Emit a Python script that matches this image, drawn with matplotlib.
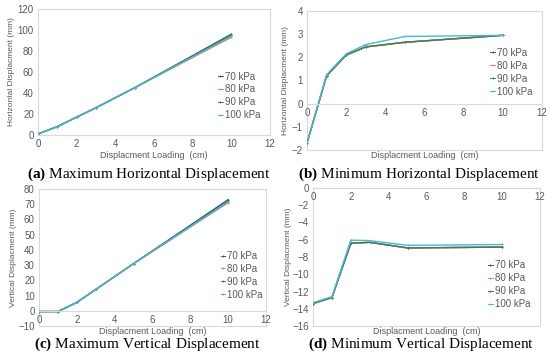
import matplotlib
matplotlib.use("Agg")
from matplotlib import pyplot as plt

# loading steps (cm)
x = [0, 1, 2, 3, 5, 10]
labels = ["70 kPa", "80 kPa", "90 kPa", "100 kPa"]
colors = ["#2c5d72", "#e8845a", "#3f7d5c", "#4bb7d2"]

# (a) maximum horizontal displacement (mm)
max_h = [
    [1, 8, 17, 26, 45, 96],
    [1, 8, 17, 26, 45, 93],
    [1, 8, 17, 26, 45, 95],
    [1, 8, 17, 26, 45, 94],
]
# (b) minimum horizontal displacement (mm)
min_h = [
    [-1.7, 1.2, 2.1, 2.45, 2.65, 2.95],
    [-1.7, 1.2, 2.1, 2.45, 2.65, 2.95],
    [-1.7, 1.2, 2.1, 2.45, 2.65, 2.95],
    [-1.7, 1.25, 2.15, 2.55, 2.9, 2.95],
]
# (c) maximum vertical displacement (mm)
max_v = [
    [-0.5, -0.5, 5.5, 14, 31, 73],
    [-0.5, -0.5, 5.5, 14, 31, 71],
    [-0.5, -0.5, 5.5, 14, 31, 72],
    [-0.5, -0.5, 5.5, 14, 31, 71.5],
]
# (d) minimum vertical displacement (mm)
min_v = [
    [-13.4, -12.7, -6.4, -6.3, -6.95, -6.85],
    [-13.4, -12.7, -6.4, -6.3, -6.95, -6.85],
    [-13.4, -12.7, -6.4, -6.3, -6.95, -6.85],
    [-13.3, -12.6, -6.05, -6.1, -6.65, -6.55],
]

plt.rcParams["mathtext.fontset"] = "custom"
plt.rcParams["mathtext.bf"] = "Liberation Serif:bold"
plt.rcParams["mathtext.rm"] = "Liberation Serif"

W, H = 550, 362
fig = plt.figure(figsize=(W / 100, H / 100), dpi=100)
sans = "Liberation Sans"
grey = "#595959"
frame = "#d9d9d9"


def box(l, t, r, b):
    return [l / W, 1 - b / H, (r - l) / W, (b - t) / H]


def panel(rect, data, ylim, ystep, ylabel, xlab_y, cap_y, tag, title, ylab_x, leg_x, leg_y):
    # light frame around the plot area
    fr = fig.add_axes(rect)
    fr.set_xticks([])
    fr.set_yticks([])
    for s in fr.spines.values():
        s.set_color(frame)
        s.set_linewidth(0.8)
    fr.patch.set_alpha(0)

    ax = fig.add_axes(rect)
    ax.patch.set_alpha(0)
    for i, ys in enumerate(data):
        ax.plot(x, ys, color=colors[i], lw=1.0, marker="+", ms=2, mew=0.7, label=labels[i])
    ax.set_xlim(0, 12)
    ax.set_ylim(*ylim)
    ax.set_xticks(range(0, 13, 2))
    yt = []
    v = ylim[0]
    while v <= ylim[1] + 1e-9:
        yt.append(v)
        v += ystep
    ax.set_yticks(yt)
    for s in ["top", "right", "left"]:
        ax.spines[s].set_visible(False)
    ax.spines["bottom"].set_position(("data", 0))
    ax.spines["bottom"].set_color(frame)
    ax.tick_params(length=0, labelsize=7, colors=grey, pad=3)
    for t in ax.get_xticklabels() + ax.get_yticklabels():
        t.set_fontfamily(sans)
    ax.set_ylabel(ylabel, fontsize=6, color=grey, fontfamily=sans)
    ax.yaxis.set_label_coords(((ylab_x + 4) / W - rect[0]) / rect[2], 0.5)
    leg = ax.legend(loc="center left", bbox_to_anchor=(leg_x, leg_y), frameon=False,
                    handlelength=0.5, handletextpad=0.2, labelspacing=0.3,
                    borderpad=0, borderaxespad=0, markerscale=0.6,
                    prop={"family": sans, "size": 7})
    for ln in leg.get_lines():
        ln.set_linewidth(0.7)
    for t in leg.get_texts():
        t.set_color(grey)
    cx = rect[0] + rect[2] * 0.5
    fig.text(cx, 1 - xlab_y / H, "Displacment Loading  (cm)", ha="center", va="center",
             fontsize=6.5, color=grey, fontfamily=sans)
    fig.text(cx - 0.01, 1 - cap_y / H, r"$\bf{(" + tag + ")}$ " + title, ha="center", va="center",
             fontsize=11, fontfamily="Liberation Serif")


panel(box(38, 9, 270, 135), max_h, (0, 120), 20, "Horizontal Displacment (mm)",
      155, 174, "a", "Maximum Horizontal Displacement", 11, 0.775, 0.31)
panel(box(307, 11, 542, 150), min_h, (-2, 4), 1, "Horizontal Displacment (mm)",
      155, 174, "b", "Minimum Horizontal Displacement", 285, 0.78, 0.56)
panel(box(39, 189, 266, 326), max_v, (-10, 80), 10, "Vertical Displacment (mm)",
      331, 344, "c", "Maximum Vertical Displacement", 13, 0.80, 0.37)
panel(box(313, 188, 540, 326), min_v, (-16, 0), 2, "Vertical Displacment (mm)",
      332, 344, "d", "Minimum Vertical Displacement", 288, 0.77, 0.30)

fig.savefig("out.png", dpi=100)
